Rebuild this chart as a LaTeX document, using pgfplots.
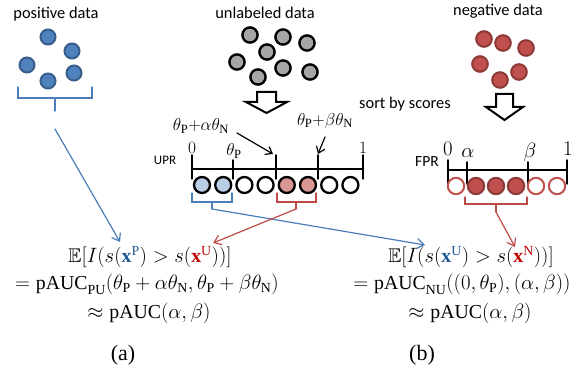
\documentclass[border=0pt]{standalone}
\usepackage{amsmath,amssymb}
\usepackage{fontspec}
\setmainfont{Liberation Serif}
\newfontfamily\calib{Carlito}
\usepackage{pgfplots}
\pgfplotsset{compat=1.18}
\usetikzlibrary{arrows.meta}

\definecolor{posfill}{HTML}{4F81BD}
\definecolor{posdraw}{HTML}{385D8A}
\definecolor{negfill}{HTML}{C0504D}
\definecolor{negdraw}{HTML}{8C3836}
\definecolor{unlfill}{HTML}{A6A6A6}
\definecolor{lightblue}{HTML}{B9CDE5}
\definecolor{lightred}{HTML}{D99694}
\definecolor{blueline}{HTML}{4A7EBB}
\definecolor{redline}{HTML}{BE4B48}
\definecolor{xblue}{HTML}{1F5597}
\definecolor{xred}{HTML}{C00000}

\newcommand{\mP}{\mathrm{P}}
\newcommand{\mN}{\mathrm{N}}
\newcommand{\mU}{\mathrm{U}}

\begin{document}
\begin{tikzpicture}
\begin{axis}[
  width=584pt, height=374pt, scale only axis,
  xmin=0, xmax=584, ymin=0, ymax=374, y dir=reverse,
  hide axis, clip=false,
  every axis plot/.append style={line cap=round},
]
\path (axis cs:0,0) rectangle (axis cs:584,374);

% ---------- labels of the three data sets ----------
\node[font=\calib\fontsize{16.4}{18}\selectfont] at (axis cs:56,14) {positive data};
\node[font=\calib\fontsize{16.4}{18}\selectfont] at (axis cs:265,13) {unlabeled data};
\node[font=\calib\fontsize{16.4}{18}\selectfont] at (axis cs:498,11) {negative data};
\node[font=\calib\fontsize{16.4}{18}\selectfont] at (axis cs:405,104) {sort by scores};

% ---------- sample points ----------
\addplot[only marks, mark=*, mark size=7.5pt,
  mark options={fill=posfill, draw=posdraw, line width=2pt}]
  coordinates {(48,37) (72,51) (27,65) (48,81) (74,73)};
\addplot[only marks, mark=*, mark size=7.6pt,
  mark options={fill=unlfill, draw=black, line width=2.4pt}]
  coordinates {(250,35) (283,37) (307,43) (267,52) (237,62) (283,68) (258,77) (310,72)};
\addplot[only marks, mark=*, mark size=7.8pt,
  mark options={fill=negfill, draw=negdraw, line width=2pt}]
  coordinates {(484,39) (503,43) (526,48) (480,64) (519,72) (500,80)};

% ---------- hollow "sort" arrows ----------
\addplot[draw=black, fill=white, line width=2pt, line join=miter, line cap=butt]
  coordinates {(257,92) (276,92) (276,102) (287,102) (266.5,113) (246,102) (257,102) (257,92) (276,92)};
\addplot[draw=black, fill=white, line width=2pt, line join=miter, line cap=butt]
  coordinates {(496,94) (513,94) (513,107) (523,107) (504.5,120) (486,107) (496,107) (496,94) (513,94)};

% ---------- UPR axis ----------
\node[font=\calib\fontsize{13}{15}\selectfont] at (axis cs:165,160) {UPR};
\addplot[black, line width=1.5pt] coordinates {(192,169) (363,169)};
\addplot[black, line width=1.5pt] coordinates {(192,155) (192,179)};
\addplot[black, line width=1.5pt] coordinates {(233,160) (233,179)};
\addplot[black, line width=1.5pt] coordinates {(276,155) (276,179)};
\addplot[black, line width=1.5pt] coordinates {(318,155) (318,179)};
\addplot[black, line width=1.5pt] coordinates {(363,155) (363,179)};
\node[font=\fontsize{18}{20}\selectfont] at (axis cs:192,148) {$0$};
\node[font=\fontsize{18}{20}\selectfont] at (axis cs:234,151) {$\theta_{\mP}$};
\node[font=\fontsize{18}{20}\selectfont] at (axis cs:363,148) {$1$};
\node[font=\fontsize{18}{20}\selectfont] at (axis cs:201,126) {$\theta_{\mP}{+}\alpha\theta_{\mN}$};
\node[font=\fontsize{18}{20}\selectfont] at (axis cs:325,121) {$\theta_{\mP}{+}\beta\theta_{\mN}$};
\addplot[black, line width=1.2pt, -{Straight Barb[length=6pt,width=9pt]}]
  coordinates {(237,133) (273,154)};
\addplot[black, line width=1.2pt, -{Straight Barb[length=6pt,width=9pt]}]
  coordinates {(325,137) (318,154)};

% sorted unlabeled samples
\addplot[only marks, mark=*, mark size=8pt,
  mark options={fill=lightblue, draw=black, line width=2.3pt}]
  coordinates {(202,185) (223.2,185)};
\addplot[only marks, mark=*, mark size=8pt,
  mark options={fill=white, draw=black, line width=2.3pt}]
  coordinates {(244.4,185) (265.6,185) (329.2,185) (350.4,185)};
\addplot[only marks, mark=*, mark size=8pt,
  mark options={fill=lightred, draw=black, line width=2.3pt}]
  coordinates {(286.8,185) (308,185)};

% ---------- FPR axis ----------
\node[font=\calib\fontsize{15.5}{18}\selectfont] at (axis cs:427,162) {FPR};
\addplot[black, line width=1.5pt] coordinates {(448,170) (567,170)};
\addplot[black, line width=1.5pt] coordinates {(448,160) (448,184)};
\addplot[black, line width=1.5pt] coordinates {(467,162) (467,184)};
\addplot[black, line width=1.5pt] coordinates {(528,162) (528,184)};
\addplot[black, line width=1.5pt] coordinates {(567,160) (567,184)};
\node[font=\fontsize{21}{22}\selectfont] at (axis cs:448,149) {$0$};
\node[font=\fontsize{21}{22}\selectfont] at (axis cs:468,153) {$\alpha$};
\node[font=\fontsize{21}{22}\selectfont] at (axis cs:530,152) {$\beta$};
\node[font=\fontsize{21}{22}\selectfont] at (axis cs:568,149) {$1$};

% sorted negative samples
\addplot[only marks, mark=*, mark size=8.2pt,
  mark options={fill=white, draw=negfill, line width=2pt}]
  coordinates {(456,186) (536,186) (557,186)};
\addplot[only marks, mark=*, mark size=8.2pt,
  mark options={fill=negfill, draw=negdraw, line width=2pt}]
  coordinates {(476,186) (496,186) (516,186)};

% ---------- braces ----------
\addplot[blueline, line width=1.3pt] coordinates {(18,87) (18,98) (92,98) (92,87)};
\addplot[blueline, line width=1.3pt] coordinates {(55,98) (55,111)};
\addplot[blueline, line width=1.3pt] coordinates {(192,193) (192,202) (232,202) (232,193)};
\addplot[blueline, line width=1.3pt] coordinates {(212,202) (212,209)};
\addplot[redline, line width=1.3pt] coordinates {(277,193) (277,202) (316,202) (316,193)};
\addplot[redline, line width=1.3pt] coordinates {(296,202) (296,209)};
\addplot[redline, line width=1.3pt] coordinates {(465,197) (465,204) (527,204) (527,197)};
\addplot[redline, line width=1.3pt] coordinates {(496,204) (496,212)};

% ---------- connecting arrows ----------
\addplot[blueline, line width=1.2pt, -{Straight Barb[length=7pt,width=10pt]}]
  coordinates {(55,129) (120,242)};
\addplot[blueline, line width=1.2pt, -{Straight Barb[length=7pt,width=10pt]}]
  coordinates {(212,209) (425,245)};
\addplot[redline, line width=1.2pt, -{Straight Barb[length=7pt,width=10pt]}]
  coordinates {(296,209) (213,243)};
\addplot[redline, line width=1.2pt, -{Straight Barb[length=7pt,width=10pt]}]
  coordinates {(496,212) (515,247)};

% ---------- equations ----------
\begin{scope}[every node/.style={font=\fontsize{19.8}{24}\selectfont, inner sep=0pt}]
\node at (axis cs:150,257) {$\mathbb{E}[I(s(\textcolor{xblue}{\mathbf{x}^{\mP}})>s(\textcolor{xred}{\mathbf{x}^{\mU}}))]$};
\node at (axis cs:147,284) {$=\mathrm{pAUC}_{\mathrm{PU}}(\theta_{\mP}+\alpha\theta_{\mN},\theta_{\mP}+\beta\theta_{\mN})$};
\node at (axis cs:149,313.5) {$\approx\mathrm{pAUC}(\alpha,\beta)$};
\node at (axis cs:471,257) {$\mathbb{E}[I(s(\textcolor{xblue}{\mathbf{x}^{\mU}})>s(\textcolor{xred}{\mathbf{x}^{\mN}}))]$};
\node at (axis cs:462,284) {$=\mathrm{pAUC}_{\mathrm{NU}}((0,\theta_{\mP}),(\alpha,\beta))$};
\node at (axis cs:470,313.5) {$\approx\mathrm{pAUC}(\alpha,\beta)$};
\end{scope}

\node[font=\fontsize{22}{24}\selectfont] at (axis cs:123,355) {(a)};
\node[font=\fontsize{22}{24}\selectfont] at (axis cs:422,355) {(b)};
\end{axis}
\end{tikzpicture}
\end{document}
